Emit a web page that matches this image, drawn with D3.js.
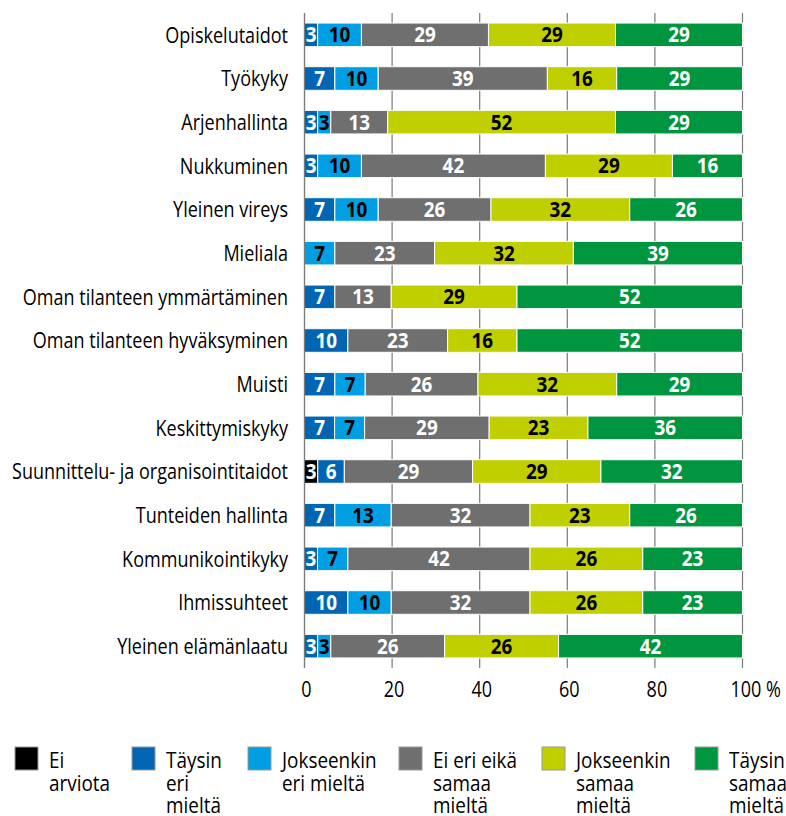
<!DOCTYPE html>
<html>
<head>
<meta charset="utf-8">
<script src="https://cdn.jsdelivr.net/npm/d3@7"></script>
<style>
  body { margin: 0; background: #fff; }
  text { font-family: "Open Sans", "Noto Sans", sans-serif; }
</style>
</head>
<body>
<script>
// categories, top to bottom
var categories = [
  "Opiskelutaidot", "Työkyky", "Arjenhallinta", "Nukkuminen", "Yleinen vireys",
  "Mieliala", "Oman tilanteen ymmärtäminen", "Oman tilanteen hyväksyminen",
  "Muisti", "Keskittymiskyky", "Suunnittelu- ja organisointitaidot",
  "Tunteiden hallinta", "Kommunikointikyky", "Ihmissuhteet", "Yleinen elämänlaatu"
];

// percentages per answer, one value per category
var eiArviota          = [0, 0, 0, 0, 0, 0, 0, 0, 0, 0, 3, 0, 0, 0, 0];
var taysinEri          = [3, 7, 3, 3, 7, 0, 7, 10, 7, 7, 6, 7, 3, 10, 3];
var jokseenkinEri      = [10, 10, 3, 10, 10, 7, 0, 0, 7, 7, 0, 13, 7, 10, 3];
var eiEriEikaSamaa     = [29, 39, 13, 42, 26, 23, 13, 23, 26, 29, 29, 32, 42, 32, 26];
var jokseenkinSamaa    = [29, 16, 52, 29, 32, 32, 29, 16, 32, 23, 29, 23, 26, 26, 26];
var taysinSamaa        = [29, 29, 29, 16, 26, 39, 52, 52, 29, 36, 32, 26, 23, 23, 42];

var seriesKeys = ["eiArviota", "taysinEri", "jokseenkinEri", "eiEriEikaSamaa", "jokseenkinSamaa", "taysinSamaa"];
var seriesValues = [eiArviota, taysinEri, jokseenkinEri, eiEriEikaSamaa, jokseenkinSamaa, taysinSamaa];
var legendLabels = [
  ["Ei", "arviota"],
  ["Täysin", "eri", "mieltä"],
  ["Jokseenkin", "eri mieltä"],
  ["Ei eri eikä", "samaa", "mieltä"],
  ["Jokseenkin", "samaa", "mieltä"],
  ["Täysin", "samaa", "mieltä"]
];
var xTicks = [0, 20, 40, 60, 80, 100];

var colors = ["#000000", "#0066b3", "#009fe3", "#6f6f6f", "#bfcf00", "#00963f"];
var textColors = ["#fff", "#fff", "#000", "#fff", "#000", "#fff"];

// the original uses a narrow font, so text is squeezed sideways
var squeeze = 0.82;
function place(x, y, sx) {
  return "translate(" + x + "," + y + ") scale(" + (sx || squeeze) + ",1)";
}

var width = 786, height = 816;
var svg = d3.select("body").append("svg").attr("width", width).attr("height", height);

var rows = categories.map(function (c, i) {
  var r = { cat: c };
  seriesKeys.forEach(function (k, j) { r[k] = seriesValues[j][i]; });
  return r;
});

var stack = d3.stack().keys(seriesKeys).offset(d3.stackOffsetExpand);
var stacked = stack(rows);

var x = d3.scaleLinear().domain([0, 1]).range([304.5, 742.5]);
var xAxisScale = d3.scaleLinear().domain([0, 100]).range([304.5, 742.5]);
var y = d3.scaleBand().domain(categories).range([13, 668]).paddingInner(0.46).paddingOuter(0.23);

// grid lines behind bars
svg.append("g")
  .selectAll("line")
  .data(xTicks)
  .enter().append("line")
  .attr("x1", function (d) { return xAxisScale(d); })
  .attr("x2", function (d) { return xAxisScale(d); })
  .attr("y1", 13).attr("y2", 668)
  .attr("stroke", "#7a7a7a").attr("stroke-width", 1.2);

var groups = svg.selectAll("g.series")
  .data(stacked)
  .enter().append("g")
  .attr("class", "series");

groups.selectAll("rect")
  .data(function (s) { return s.filter(function (d) { return d[1] - d[0] > 0; }); })
  .enter().append("rect")
  .attr("x", function (d) { return x(d[0]); })
  .attr("width", function (d) { return x(d[1]) - x(d[0]); })
  .attr("y", function (d) { return y(d.data.cat); })
  .attr("height", y.bandwidth())
  .attr("fill", function () { return colors[d3.select(this.parentNode).datum().index]; })
  .attr("stroke", "#fff").attr("stroke-width", 1);

groups.selectAll("text")
  .data(function (s) {
    return s.filter(function (d) { return d.data[s.key] > 0; })
      .map(function (d) { return { d: d, key: s.key, idx: s.index }; });
  })
  .enter().append("text")
  .attr("transform", function (o) {
    return place((x(o.d[0]) + x(o.d[1])) / 2, y(o.d.data.cat) + y.bandwidth() / 2, 0.9);
  })
  .attr("dy", "0.36em")
  .attr("text-anchor", "middle")
  .attr("font-weight", "bold")
  .attr("font-size", 21)
  .attr("fill", function (o) { return textColors[o.idx]; })
  .text(function (o) { return o.d.data[o.key]; });

// left axis line
svg.append("line")
  .attr("x1", 304.5).attr("x2", 304.5).attr("y1", 13).attr("y2", 668)
  .attr("stroke", "#7a7a7a").attr("stroke-width", 1.2);

// category labels
svg.append("g")
  .selectAll("text")
  .data(categories)
  .enter().append("text")
  .attr("transform", function (d) { return place(288, y(d) + y.bandwidth() / 2); })
  .attr("dy", "0.36em")
  .attr("text-anchor", "end")
  .attr("font-size", 22)
  .attr("fill", "#000")
  .text(function (d) { return d; });

// x tick labels
svg.append("g")
  .selectAll("text")
  .data(xTicks)
  .enter().append("text")
  .attr("transform", function (d) {
    return d === 100 ? place(xAxisScale(d) - 12, 697) : place(xAxisScale(d) + 2, 697);
  })
  .attr("text-anchor", function (d) { return d === 100 ? "start" : "middle"; })
  .attr("font-size", 22)
  .attr("fill", "#000")
  .text(function (d) { return d === 100 ? "100 %" : d; });

// legend
var legendX = [15, 132, 248, 399, 542, 695];
var legend = svg.append("g").selectAll("g")
  .data(legendLabels)
  .enter().append("g")
  .attr("transform", function (d, i) { return "translate(" + legendX[i] + ",747)"; });

legend.append("rect")
  .attr("width", 23).attr("height", 23)
  .attr("fill", function (d, i) { return colors[i]; })
  .attr("stroke", "#999").attr("stroke-width", 1);

legend.each(function (lines) {
  var t = d3.select(this).append("text")
    .attr("transform", place(34, 21, 0.86))
    .attr("font-size", 22).attr("fill", "#000");
  lines.forEach(function (l, k) {
    t.append("tspan").attr("x", 0).attr("dy", k === 0 ? 0 : 22.7).text(l);
  });
});
</script>
</body>
</html>
